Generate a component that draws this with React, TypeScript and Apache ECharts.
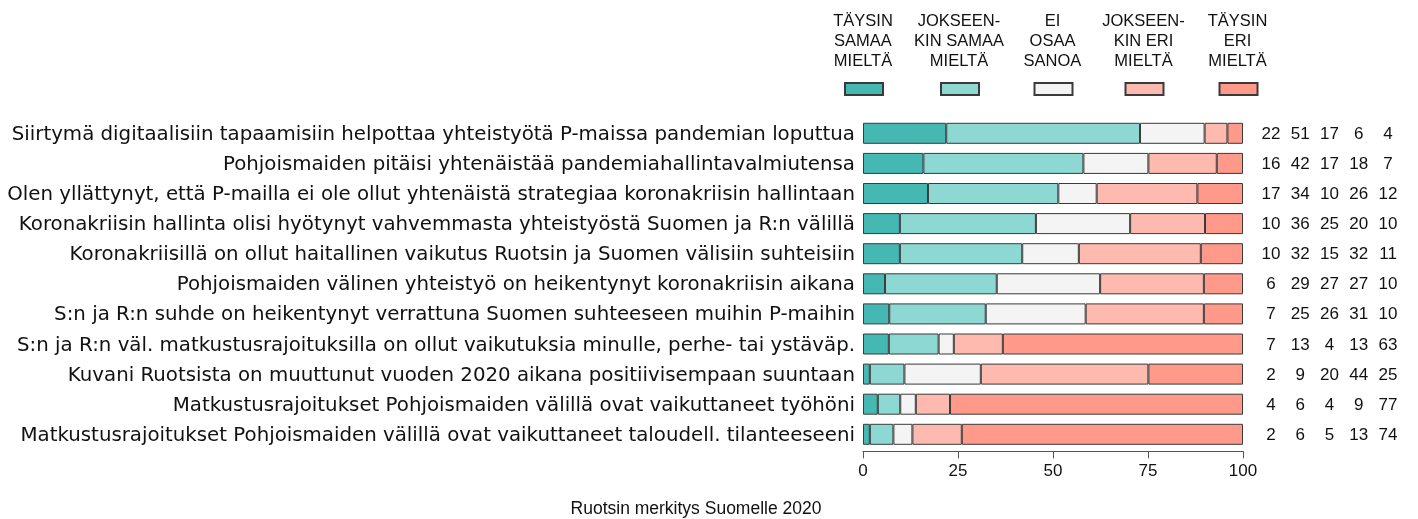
import React, { useEffect, useRef } from "react";
import * as echarts from "echarts";

const categories = [
  "Siirtymä digitaalisiin tapaamisiin helpottaa yhteistyötä P-maissa pandemian loputtua",
  "Pohjoismaiden pitäisi yhtenäistää pandemiahallintavalmiutensa",
  "Olen yllättynyt, että P-mailla ei ole ollut yhtenäistä strategiaa koronakriisin hallintaan",
  "Koronakriisin hallinta olisi hyötynyt vahvemmasta yhteistyöstä Suomen ja R:n välillä",
  "Koronakriisillä on ollut haitallinen vaikutus Ruotsin ja Suomen välisiin suhteisiin",
  "Pohjoismaiden välinen yhteistyö on heikentynyt koronakriisin aikana",
  "S:n ja R:n suhde on heikentynyt verrattuna Suomen suhteeseen muihin P-maihin",
  "S:n ja R:n väl. matkustusrajoituksilla on ollut vaikutuksia minulle, perhe- tai ystäväp.",
  "Kuvani Ruotsista on muuttunut vuoden 2020 aikana positiivisempaan suuntaan",
  "Matkustusrajoitukset Pohjoismaiden välillä ovat vaikuttaneet työhöni",
  "Matkustusrajoitukset Pohjoismaiden välillä ovat vaikuttaneet taloudell. tilanteeseeni",
];

const seriesNames = [
  "Täysin samaa mieltä",
  "Jokseenkin samaa mieltä",
  "Ei osaa sanoa",
  "Jokseenkin eri mieltä",
  "Täysin eri mieltä",
];
const legendLabels = [
  "TÄYSIN\nSAMAA\nMIELTÄ",
  "JOKSEEN-\nKIN SAMAA\nMIELTÄ",
  "EI\nOSAA\nSANOA",
  "JOKSEEN-\nKIN ERI\nMIELTÄ",
  "TÄYSIN\nERI\nMIELTÄ",
];
const colors = ["#45B8B4", "#8ED8D4", "#F4F4F4", "#FFBAAF", "#FF998A"];

// bar lengths (percent)
const taysinSamaa = [21.9, 15.9, 17.1, 9.7, 9.7, 5.8, 6.9, 6.8, 1.8, 3.9, 1.8];
const jokseenkinSamaa = [51.0, 42.1, 34.3, 35.8, 32.2, 29.4, 25.4, 13.1, 9.1, 5.9, 6.2];
const eiOsaa = [17.0, 17.1, 10.1, 24.8, 14.9, 27.2, 26.3, 4.0, 20.1, 4.1, 5.0];
const jokseenkinEri = [6.0, 18.0, 26.5, 19.7, 32.1, 27.3, 31.1, 12.9, 44.1, 9.0, 13.0];
const taysinEri = [4.1, 6.9, 12.0, 10.0, 11.1, 10.3, 10.3, 63.2, 24.9, 77.1, 74.0];

// printed (rounded) percentages on the right
const lblTaysinSamaa = [22, 16, 17, 10, 10, 6, 7, 7, 2, 4, 2];
const lblJokseenkinSamaa = [51, 42, 34, 36, 32, 29, 25, 13, 9, 6, 6];
const lblEiOsaa = [17, 17, 10, 25, 15, 27, 26, 4, 20, 4, 5];
const lblJokseenkinEri = [6, 18, 26, 20, 32, 27, 31, 13, 44, 9, 13];
const lblTaysinEri = [4, 7, 12, 10, 11, 10, 10, 63, 25, 77, 74];

const xTicks = [0, 25, 50, 75, 100];

const FONT = "'Liberation Sans', Arial, Helvetica, sans-serif";
const CAT_FONT = "'DejaVu Sans', 'Liberation Sans', Arial, sans-serif";

export default function App() {
  const ref = useRef<HTMLDivElement>(null);
  useEffect(() => {
    if (!ref.current) return;
    const chart = echarts.init(ref.current, undefined, { renderer: "svg" });
    const values = [taysinSamaa, jokseenkinSamaa, eiOsaa, jokseenkinEri, taysinEri];
    const labels = [lblTaysinSamaa, lblJokseenkinSamaa, lblEiOsaa, lblJokseenkinEri, lblTaysinEri];
    const legendCenters = [863, 959, 1052.5, 1143.5, 1237.5];

    const colW = 29.25;
    const rich: Record<string, any> = {};
    for (let i = 0; i < 5; i++) {
      rich["c" + i] = { width: colW, align: "center", fontSize: 17, fontFamily: FONT, color: "#111" };
    }

    chart.setOption({
      animation: false,
      textStyle: { fontFamily: FONT },
      title: {
        text: "Ruotsin merkitys Suomelle 2020",
        left: 696,
        textAlign: "center",
        top: 499,
        padding: 0,
        textStyle: { fontSize: 17.5, fontWeight: "normal", color: "#111", fontFamily: FONT },
      },
      legend: seriesNames.map((n, i) => ({
        data: [n],
        left: legendCenters[i] - 19,
        top: 82,
        itemWidth: 38,
        itemHeight: 12,
        padding: 0,
        formatter: () => "",
        selectedMode: false,
        icon: "rect",
      })),
      graphic: legendLabels.map((t, i) => ({
        type: "text",
        x: legendCenters[i],
        y: 10,
        style: {
          text: t,
          fontSize: 16.5,
          lineHeight: 20,
          fontFamily: FONT,
          fill: "#111",
          align: "center",
          verticalAlign: "top",
        },
      })),
      grid: {
        left: 863,
        right: 175,
        top: 118.25,
        height: 331.1,
        containLabel: false,
        outerBoundsMode: "none",
      },
      xAxis: {
        type: "value",
        min: xTicks[0],
        max: xTicks[xTicks.length - 1],
        interval: 25,
        offset: 2,
        axisLine: { show: true, lineStyle: { color: "#555", width: 1 } },
        axisTick: { show: true, length: 7, lineStyle: { color: "#555" } },
        splitLine: { show: false },
        axisLabel: { fontSize: 17, color: "#111", margin: 11, fontFamily: FONT },
      },
      yAxis: [
        {
          type: "category",
          data: categories,
          inverse: true,
          axisLine: { show: false },
          axisTick: { show: false },
          axisLabel: { interval: 0, fontSize: 19.8, color: "#111", margin: 8, fontFamily: CAT_FONT },
        },
        {
          type: "category",
          data: categories,
          inverse: true,
          position: "right",
          axisLine: { show: false },
          axisTick: { show: false },
          axisLabel: {
            interval: 0,
            margin: 13.4,
            formatter: (_v: string, idx: number) =>
              labels.map((arr, i) => `{c${i}|${arr[idx]}}`).join(""),
            rich,
          },
        },
      ],
      series: values.map((arr, i) => ({
        name: seriesNames[i],
        type: "bar",
        stack: "total",
        data: arr,
        barWidth: 21,
        itemStyle: { color: colors[i], borderColor: "#3a3a3a", borderWidth: 1 },
        emphasis: { disabled: true },
      })),
    });
    return () => chart.dispose();
  }, []);
  return (
    <div
      ref={ref}
      style={{ position: "fixed", left: 0, top: 0, width: 1418, height: 519 }}
    />
  );
}
